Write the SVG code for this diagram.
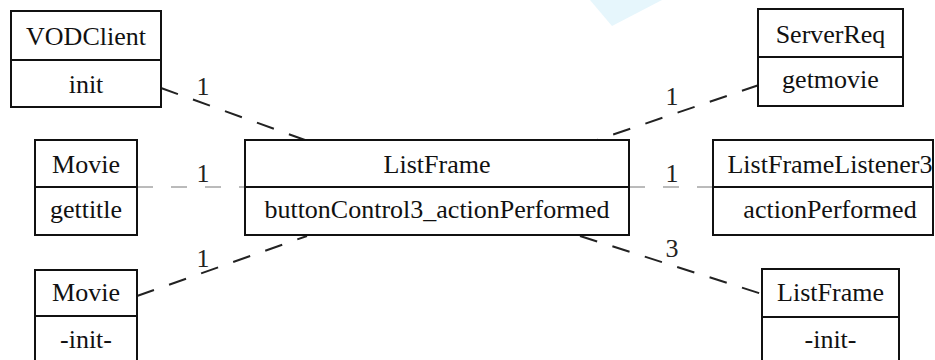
<svg xmlns="http://www.w3.org/2000/svg" width="935" height="360" viewBox="0 0 935 360">
<style>
.box{fill:#fff;stroke:#111;stroke-width:2}
.div{stroke:#111;stroke-width:2}
.t{font-family:'Liberation Serif','Times New Roman',Times,'DejaVu Serif',serif;font-size:26px;fill:#111;text-anchor:middle}
.assoc{stroke:#222;stroke-width:2;stroke-dasharray:18 16;fill:none}
.thin{stroke:#777;stroke-width:1;stroke-dasharray:16 18;fill:none}
.lbl{font-family:'Liberation Serif','Times New Roman',Times,'DejaVu Serif',serif;font-size:26px;fill:#222;text-anchor:middle}
</style>
<rect width="935" height="360" fill="#fff"/>
<polygon points="590,0 662,0 612,26" fill="#e6f6fc"/>
<g id="connectors">
<line class="thin" x1="137" y1="187" x2="245" y2="187"/>
<line class="thin" x1="629" y1="187" x2="713" y2="187"/>
<line class="assoc" x1="161" y1="88" x2="305" y2="140"/>
<line class="assoc" x1="759" y1="85" x2="597" y2="140"/>
<line class="assoc" x1="137" y1="296" x2="307" y2="236"/>
<line class="assoc" x1="580" y1="236" x2="762" y2="294"/>
<text class="lbl" x="203" y="95" font-family="Liberation Serif, serif">1</text>
<text class="lbl" x="672" y="105" font-family="Liberation Serif, serif">1</text>
<text class="lbl" x="203" y="182" font-family="Liberation Serif, serif">1</text>
<text class="lbl" x="672" y="182" font-family="Liberation Serif, serif">1</text>
<text class="lbl" x="203" y="267" font-family="Liberation Serif, serif">1</text>
<text class="lbl" x="672" y="257" font-family="Liberation Serif, serif">3</text>
</g>
<g id="VODClient">
<rect class="box" x="11" y="11" width="150" height="96"/>
<line class="div" x1="11" y1="60" x2="161" y2="60"/>
<text class="t" x="86" y="45">VODClient</text>
<text class="t" x="86" y="93">init</text>
</g>
<g id="ServerReq">
<rect class="box" x="758" y="9" width="145" height="97"/>
<line class="div" x1="758" y1="57" x2="903" y2="57"/>
<text class="t" x="830.5" y="43">ServerReq</text>
<text class="t" x="830.5" y="88">getmovie</text>
</g>
<g id="MovieGettitle">
<rect class="box" x="35" y="140" width="102" height="95"/>
<line class="div" x1="35" y1="187" x2="137" y2="187"/>
<text class="t" x="86" y="173">Movie</text>
<text class="t" x="86" y="218">gettitle</text>
</g>
<g id="ListFrameMain">
<rect class="box" x="245" y="140" width="384" height="95"/>
<line class="div" x1="245" y1="187" x2="629" y2="187"/>
<text class="t" x="437" y="173">ListFrame</text>
<text class="t" x="437" y="218">buttonControl3_actionPerformed</text>
</g>
<g id="ListFrameListener3">
<rect class="box" x="713" y="140" width="220" height="95"/>
<line class="div" x1="713" y1="187" x2="933" y2="187"/>
<text class="t" x="830" y="173">ListFrameListener3</text>
<text class="t" x="830" y="218">actionPerformed</text>
</g>
<g id="MovieInit">
<rect class="box" x="35" y="270" width="102" height="100"/>
<line class="div" x1="35" y1="316" x2="137" y2="316"/>
<text class="t" x="86" y="301">Movie</text>
<text class="t" x="86" y="348">-init-</text>
</g>
<g id="ListFrameInit">
<rect class="box" x="762" y="269" width="137" height="100"/>
<line class="div" x1="762" y1="317" x2="899" y2="317"/>
<text class="t" x="830.5" y="301">ListFrame</text>
<text class="t" x="830.5" y="348">-init-</text>
</g>
</svg>
